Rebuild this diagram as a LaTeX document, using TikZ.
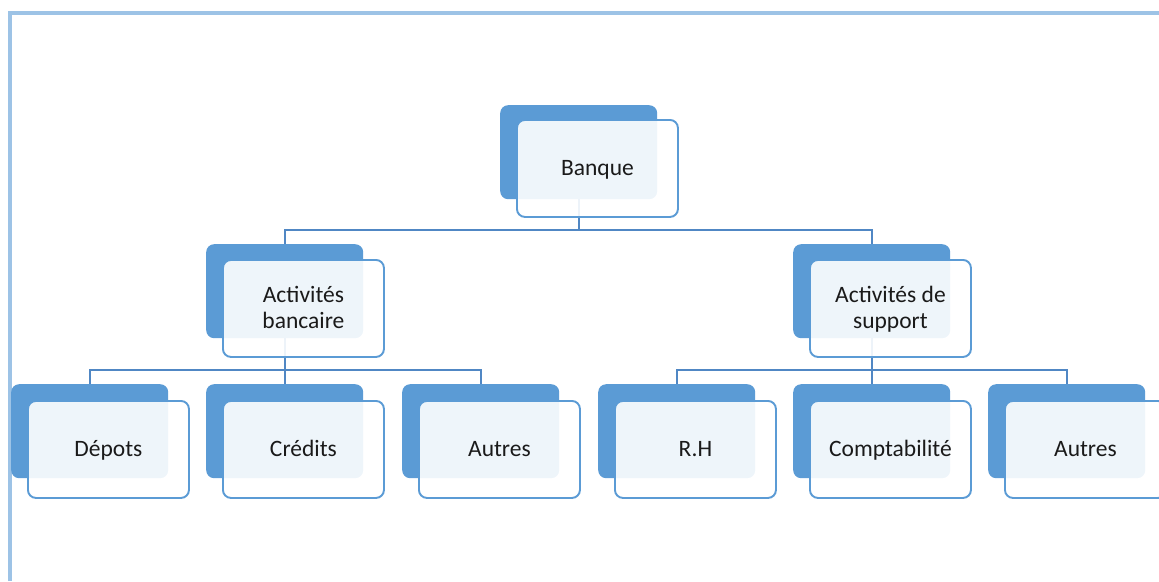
\documentclass[tikz,border=0pt]{standalone}
\usepackage{fontspec}
\setmainfont{Carlito}
\newcommand\boxstrut{\rule[-5.6pt]{0pt}{25.5pt}}
\begin{document}
\begin{tikzpicture}[x=1pt,y=-1pt,
  backbox/.style={anchor=north west,inner sep=0pt,minimum width=157pt,minimum height=94pt,
    fill=boxdark,rounded corners=8pt},
  frontbox/.style={anchor=north west,inner sep=0pt,minimum width=161pt,minimum height=97pt,
    draw=boxdark,line width=1.9pt,fill=white,fill opacity=0.9,text opacity=1,
    rounded corners=8pt,align=center,text=textdark,
    font=\fontsize{23.5}{25.5}\selectfont},
  link/.style={draw=linkblue,line width=2pt}]
\definecolor{boxdark}{HTML}{5B9BD5}
\definecolor{linkblue}{HTML}{5087C4}
\definecolor{framecol}{HTML}{9DC3E6}
\definecolor{textdark}{HTML}{1A1A1A}
\useasboundingbox (0,0) rectangle (1159,581);
\clip (0,0) rectangle (1159,581);
% frame
\draw[framecol,line width=4pt] (9.5,581) -- (9.5,13) -- (1159,13);
% back boxes
\node[backbox] (bqB) at (500,105) {};
\node[backbox] (abB) at (206,244) {};
\node[backbox] (asB) at (793,244) {};
\node[backbox] (dpB) at (11,384) {};
\node[backbox] (crB) at (206,384) {};
\node[backbox] (a1B) at (402,384) {};
\node[backbox] (rhB) at (598,384) {};
\node[backbox] (cpB) at (793,384) {};
\node[backbox] (a2B) at (988,384) {};
% connectors
\draw[link] (bqB.south) -- ++(0,30.5) -| (abB.north);
\draw[link] (bqB.south) -- ++(0,30.5) -| (asB.north);
\draw[link] (abB.south) -- ++(0,32) -| (dpB.north);
\draw[link] (abB.south) -- (crB.north);
\draw[link] (abB.south) -- ++(0,32) -| (a1B.north);
\draw[link] (asB.south) -- ++(0,32) -| (rhB.north);
\draw[link] (asB.south) -- (cpB.north);
\draw[link] (asB.south) -- ++(0,32) -| (a2B.north);
% front boxes
\node[frontbox] (bq) at (516,119) {\boxstrut Banque};
\node[frontbox] (ab) at (222,259) {\boxstrut Activités\\\boxstrut bancaire};
\node[frontbox] (as) at (809,259) {\boxstrut Activités de\\\boxstrut support};
\node[frontbox] (dp) at (27,400) {\boxstrut Dépots};
\node[frontbox] (cr) at (222,400) {\boxstrut Crédits};
\node[frontbox] (a1) at (418,400) {\boxstrut Autres};
\node[frontbox] (rh) at (614,400) {\boxstrut R.H};
\node[frontbox] (cp) at (809,400) {\boxstrut Comptabilité};
\node[frontbox] (a2) at (1004,400) {\boxstrut Autres};
\end{tikzpicture}
\end{document}
